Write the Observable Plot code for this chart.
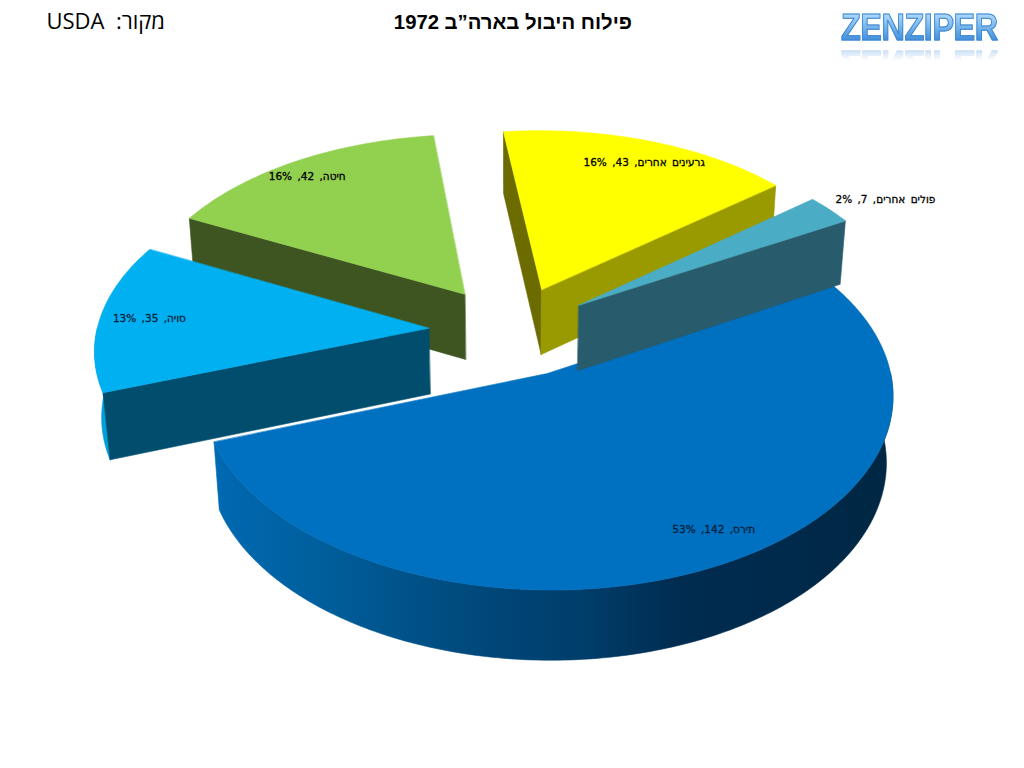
<!DOCTYPE html>
<html lang="he">
<head>
<meta charset="utf-8">
<script src="https://cdn.jsdelivr.net/npm/d3@7"></script>
<script src="https://cdn.jsdelivr.net/npm/@observablehq/plot@0.6"></script>
<style>
html,body{margin:0;padding:0;background:#fff;overflow:hidden;width:1024px;height:768px}
#chart{position:absolute;left:0;top:0}
#chart svg{display:block}
#chart text{direction:rtl;unicode-bidi:plaintext;word-spacing:2px}
.t{position:absolute;white-space:nowrap;color:#000}
#title{left:382px;top:11px;font:bold 20.3px "Liberation Sans",sans-serif;direction:rtl;width:250px;text-align:right}
#source{left:0;top:5px;font:22px "Open Sans","DejaVu Sans",sans-serif;direction:rtl;width:165px;text-align:right}
#logo{left:841px;top:7px;font:bold 37px "Liberation Sans",sans-serif;letter-spacing:-.5px;transform-origin:0 0;transform:scaleX(.876);
 background:linear-gradient(#a9d6f8 20%,#3f8fdc 80%);-webkit-background-clip:text;background-clip:text;color:transparent;
 -webkit-text-stroke:1px #3f86cf;
 -webkit-box-reflect:below -7px linear-gradient(transparent 55%,rgba(0,0,0,.5));}
</style>
</head>
<body>
<div id="chart"></div>
<div class="t" id="title">פילוח היבול בארה”ב 1972</div>
<div class="t" id="source">מקור:&nbsp; USDA</div>
<div class="t" id="logo">ZENZIPER</div>
<script>
// Data
const crops = ["תירס", "סויה", "חיטה", "גרעינים אחרים", "פולים אחרים"];
const values = [142, 35, 42, 43, 7];
const percents = [53, 13, 16, 16, 2];

// Styles
const topColors = ["#0070c0", "#00b0f0", "#92d050", "#ffff00", "#4bacc6"];
const startWall = ["#004a7a", "#004d6e", "#3f5521", "#6b6b00", "#285b6c"];
const endWall = ["#004a7a", "#004d6e", "#3f5521", "#999900", "#285b6c"];
const rimFill = ["url(#rimBlue)", "#00a0dd", "#3f5521", "#999900", "#285b6c"];
const blueShades = ["#0069b2", "#00609f", "#00538a", "#004678", "#003d6a", "#002c50", "#002a4c", "#002845"];
const labelColor = ["#001f3d", "#001f3d", "#000", "#000", "#000"];

// Layout of the 3D pie
const firstAngle = 60, explode = [0.25, 0.25, 0.25, 0.25, 0.25], radius = [1.01, 1, 1, 1, 1];
const cx = 511, cy = 330.5, R = 332, Rv = 183, depth = 67, persp = 0.102, perspH = 0.017;
const drawOrder = [3, 2, 1, 0, 4];
const labelAngle = [-5.5, 0, -1.5, 2, 2.7], labelRadius = [0.864, 0.85, 0.89, 0.86, 1.19];
const shadeFrom = 215, shadeTo = 865;

const rad = d => d * Math.PI / 180;
const total = d3.sum(values);
const project = (u, v, h) => {
  const s = 1 / (1 - persp * v + perspH * h);
  return {x: cx + R * u * s, y: cy + (Rv * v + depth * h) * s};
};
let acc = firstAngle;
const slices = values.map((value, i) => {
  const a0 = acc, a1 = (acc += value / total * 360), mid = (a0 + a1) / 2;
  return {i, a0, a1, mid, ou: explode[i] * Math.sin(rad(mid)), ov: -explode[i] * Math.cos(rad(mid))};
});
const at = (s, angle, r, h) => project(s.ou + r * radius[s.i] * Math.sin(rad(angle)), s.ov - r * radius[s.i] * Math.cos(rad(angle)), h);

const faces = [];
let faceId = 0;
const addFace = (pts, fill) => { faceId++; for (const p of pts) faces.push({...p, id: faceId, fill}); };
const facing = a => -Math.cos(rad(a)) > 0;
for (const k of drawOrder) {
  const s = slices[k];
  const from = Math.max(s.a0, 90), to = Math.min(s.a1, 270);
  if (to > from) {
    const arc = d3.range(from, to, 1).concat(to);
    addFace([...arc.map(a => at(s, a, 1, 0)), ...arc.slice().reverse().map(a => at(s, a, 1, 1))], rimFill[k]);
  }
  if (facing(s.a0 - 90)) addFace([at(s, 0, 0, 0), at(s, s.a0, 1, 0), at(s, s.a0, 1, 1), at(s, 0, 0, 1)], startWall[k]);
  if (facing(s.a1 + 90)) addFace([at(s, 0, 0, 0), at(s, s.a1, 1, 0), at(s, s.a1, 1, 1), at(s, 0, 0, 1)], endWall[k]);
  const rim = d3.range(s.a0, s.a1, 1).concat(s.a1).map(a => at(s, a, 1, 0));
  addFace([at(s, 0, 0, 0), ...rim], topColors[k]);
}

const labels = slices.map(s => ({
  ...at(s, s.mid + labelAngle[s.i], labelRadius[s.i], 0),
  text: `${crops[s.i]}, ${values[s.i]}, ${percents[s.i]}%`,
  color: labelColor[s.i]
}));

// The shading of the big slice's rim, as an SVG gradient
const rimGradient = () => {
  const defs = d3.create("svg:defs");
  const g = defs.append("linearGradient").attr("id", "rimBlue").attr("gradientUnits", "userSpaceOnUse")
    .attr("x1", shadeFrom).attr("x2", shadeTo).attr("y1", 0).attr("y2", 0);
  blueShades.forEach((c, i) => g.append("stop").attr("offset", i / (blueShades.length - 1)).attr("stop-color", c));
  return defs.node();
};

const plot = Plot.plot({
  width: 1024, height: 768,
  margin: 0,
  x: {domain: [0, 1024], range: [0, 1024], axis: null},
  y: {domain: [0, 768], range: [0, 768], axis: null},
  color: {type: "identity"},
  marks: [
    rimGradient,
    Plot.line(faces, {x: "x", y: "y", z: "id", fill: "fill", stroke: "fill", strokeWidth: 0.6, curve: "linear-closed"}),
    Plot.text(labels, {x: "x", y: "y", text: "text", fill: "color", stroke: "color", strokeWidth: 0.3, fontSize: 10.5, fontFamily: "DejaVu Sans", textAnchor: "middle"})
  ]
});
document.getElementById("chart").append(plot);
</script>
</body>
</html>
